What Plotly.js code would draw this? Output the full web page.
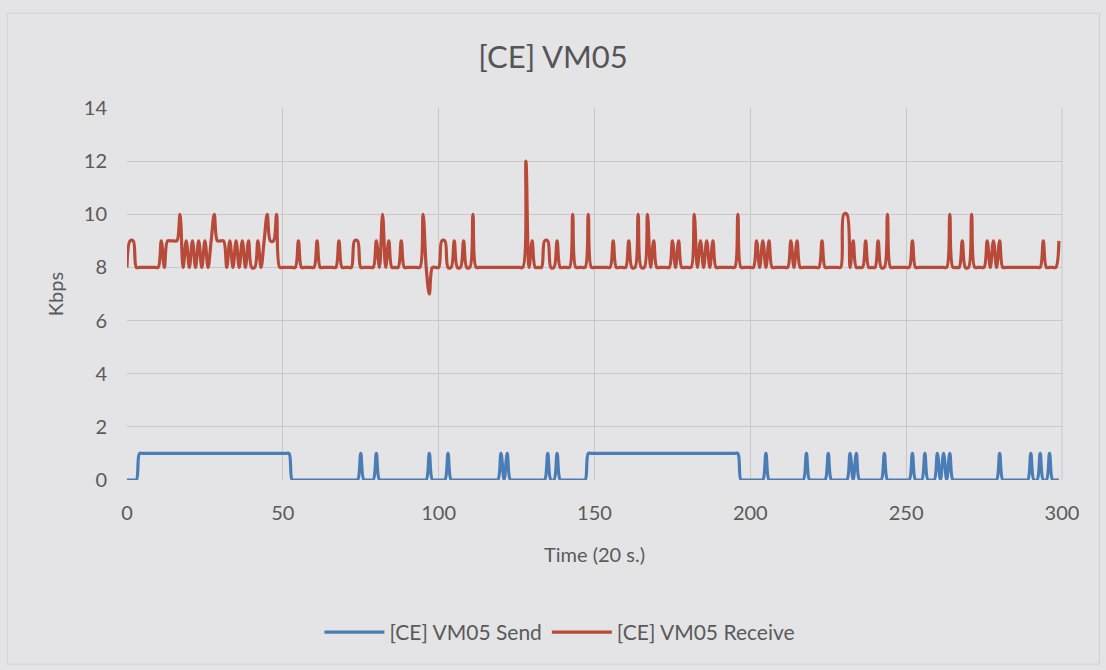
<!DOCTYPE html>
<html>
<head>
<meta charset="utf-8">
<script src="https://cdn.plot.ly/plotly-3.0.1.min.js"></script>
<style>
  html, body { margin: 0; padding: 0; background: #e4e4e6; }
  #chart { width: 1106px; height: 670px; }
</style>
</head>
<body>
<div id="chart"></div>
<script>
// Kbps sampled at each time step (20 s), t = 0 .. 299
const sendKbps = [
  0,0,0,0,1,1,1,1,1,1,
  1,1,1,1,1,1,1,1,1,1,
  1,1,1,1,1,1,1,1,1,1,
  1,1,1,1,1,1,1,1,1,1,
  1,1,1,1,1,1,1,1,1,1,
  1,1,1,0,0,0,0,0,0,0,
  0,0,0,0,0,0,0,0,0,0,
  0,0,0,0,0,1,0,0,0,0,
  1,0,0,0,0,0,0,0,0,0,
  0,0,0,0,0,0,0,1,0,0,
  0,0,0,1,0,0,0,0,0,0,
  0,0,0,0,0,0,0,0,0,0,
  1,0,1,0,0,0,0,0,0,0,
  0,0,0,0,0,1,0,0,1,0,
  0,0,0,0,0,0,0,0,1,1,
  1,1,1,1,1,1,1,1,1,1,
  1,1,1,1,1,1,1,1,1,1,
  1,1,1,1,1,1,1,1,1,1,
  1,1,1,1,1,1,1,1,1,1,
  1,1,1,1,1,1,1,0,0,0,
  0,0,0,0,0,1,0,0,0,0,
  0,0,0,0,0,0,0,0,1,0,
  0,0,0,0,0,1,0,0,0,0,
  0,0,1,0,1,0,0,0,0,0,
  0,0,0,1,0,0,0,0,0,0,
  0,0,1,0,0,0,1,0,0,0,
  1,0,1,0,1,0,0,0,0,0,
  0,0,0,0,0,0,0,0,0,0,
  1,0,0,0,0,0,0,0,0,0,
  1,0,0,1,0,0,1,0,0,0
];
const receiveKbps = [
  8,9,9,8,8,8,8,8,8,8,
  8,9,8,9,9,9,9,10,8,9,
  8,9,8,9,8,9,8,9,10,9,
  9,9,8,9,8,9,8,9,8,9,
  8,8,9,8,9,10,9,9,10,8,
  8,8,8,8,8,9,8,8,8,8,
  8,9,8,8,8,8,8,8,9,8,
  8,8,8,9,9,8,8,8,8,8,
  9,8,10,8,9,8,8,8,9,8,
  8,8,8,8,8,10,8,7,8,8,
  8,9,9,8,8,9,8,8,9,8,
  8,10,8,8,8,8,8,8,8,8,
  8,8,8,8,8,8,8,8,12,8,
  9,8,8,8,9,9,8,8,9,8,
  8,8,8,10,8,8,8,8,10,8,
  8,8,8,8,8,8,9,8,8,8,
  8,9,8,8,10,8,8,10,8,9,
  8,8,8,8,8,9,8,9,8,8,
  8,8,10,8,9,8,9,8,9,8,
  8,8,8,8,8,8,10,8,8,8,
  8,8,9,8,9,8,9,8,8,8,
  8,8,8,9,8,9,8,8,8,8,
  8,8,8,9,8,8,8,8,8,8,
  10,10,8,9,8,8,8,9,8,8,
  8,9,8,8,10,8,8,8,8,8,
  8,8,9,8,8,8,8,8,8,8,
  8,8,8,8,10,8,8,8,9,8,
  8,10,8,8,8,8,9,8,9,8,
  9,8,8,8,8,8,8,8,8,8,
  8,8,8,8,9,8,8,8,8,9
];
const timeSteps = receiveKbps.map((_, i) => i);
const seriesNames = ['[CE] VM05 Send', '[CE] VM05 Receive'];
const xTickVals = [0, 50, 100, 150, 200, 250, 300];
const yTickVals = [0, 2, 4, 6, 8, 10, 12, 14];

const FONT = 'Lato, "Open Sans", sans-serif';
const TXT = '#5a5a5a';

const traces = [
  {
    x: timeSteps, y: sendKbps, name: seriesNames[0], type: 'scatter', mode: 'lines',
    line: { color: '#4a7db6', width: 3.2, shape: 'spline', smoothing: 1 }
  },
  {
    x: timeSteps, y: receiveKbps, name: seriesNames[1], type: 'scatter', mode: 'lines',
    line: { color: '#b84a3a', width: 3.2, shape: 'spline', smoothing: 1 }
  }
];

const layout = {
  width: 1106, height: 670,
  paper_bgcolor: '#e4e4e6', plot_bgcolor: '#e4e4e6',
  margin: { l: 127, r: 44, t: 108, b: 190 },
  font: { family: FONT, color: TXT, size: 20 },
  title: { text: '[CE] VM05', font: { family: FONT, size: 31, color: '#555555' },
           x: 0.5, xanchor: 'center', y: 0.915, yanchor: 'middle' },
  xaxis: {
    range: [0, 300], tickvals: xTickVals, ticktext: xTickVals.map(String),
    showgrid: true, gridcolor: '#c8c8ca', gridwidth: 1, zeroline: false,
    showline: false, ticks: '', ticklabelstandoff: 19,
    tickfont: { family: FONT, size: 20, color: TXT },
    title: { text: 'Time (20 s.)', font: { family: FONT, size: 20, color: TXT }, standoff: 24 }
  },
  yaxis: {
    range: [0, 14], tickvals: yTickVals, ticktext: yTickVals.map(String),
    showgrid: true, gridcolor: '#c8c8ca', gridwidth: 1, zeroline: false,
    showline: false, ticks: '', ticklabelstandoff: 19,
    tickfont: { family: FONT, size: 20, color: TXT },
    title: { text: 'Kbps', font: { family: FONT, size: 20, color: TXT }, standoff: 14 }
  },
  showlegend: true,
  legend: {
    orientation: 'h', x: 0.463, xanchor: 'center', y: -0.41, yanchor: 'middle',
    font: { family: FONT, size: 21, color: TXT }, bgcolor: 'rgba(0,0,0,0)',
    itemwidth: 60
  },
  shapes: [
    { type: 'line', xref: 'paper', yref: 'paper', x0: 1, x1: 1, y0: 0, y1: 1,
      line: { color: '#c8c8ca', width: 1 } },
    { type: 'rect', xref: 'paper', yref: 'paper', x0: -0.128, x1: 1.04, y0: -0.495, y1: 1.255,
      line: { color: '#d2d2d4', width: 1 }, fillcolor: 'rgba(0,0,0,0)', layer: 'below' }
  ]
};

Plotly.newPlot('chart', traces, layout, { displayModeBar: false, staticPlot: true });
</script>
</body>
</html>
